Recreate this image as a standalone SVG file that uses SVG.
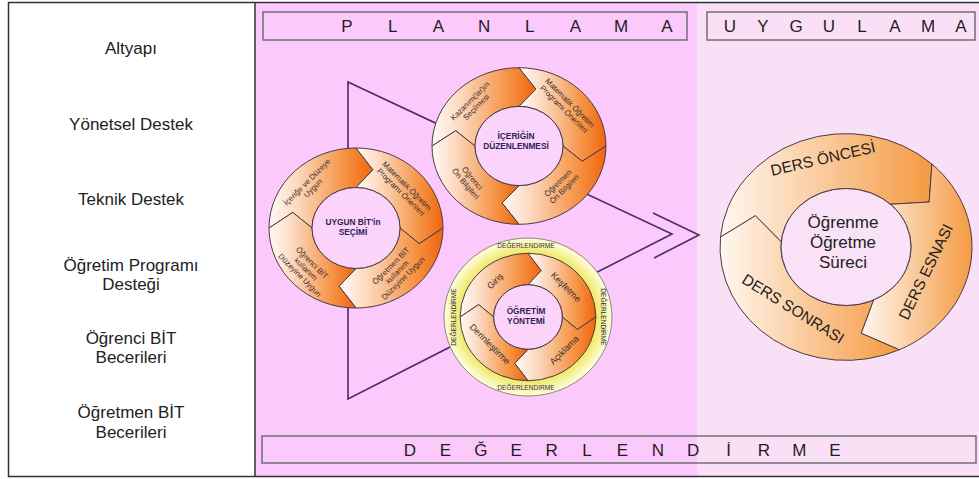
<svg xmlns="http://www.w3.org/2000/svg" xmlns:xlink="http://www.w3.org/1999/xlink" width="979" height="479" viewBox="0 0 979 479">
<style>
text{font-family:"Liberation Sans",Arial,sans-serif;fill:#222;text-anchor:middle}
.lab{font-size:17px}
.hdr{font-size:17px;fill:#1e1e1e}
.box{fill:none;stroke:#707070;stroke-width:1.5}
.tri{fill:none;stroke:#4a2c68;stroke-width:1.6;stroke-linejoin:miter}
.seg{stroke:#4a3a48;stroke-width:1;vector-effect:non-scaling-stroke}
.s8{font-size:7.8px;fill:#3a2a2a}
.s9{font-size:9px;fill:#3a2a2a}
.deg{font-size:6.6px;fill:#333}
.ctr{font-size:8.3px;font-weight:bold;fill:#2a2456}
.big{font-size:15.5px;fill:#222}
.mid{font-size:17px;fill:#222}
</style>
<defs>
<linearGradient id="gS" x1="0" y1="0" x2="1" y2="0">
<stop offset="0" stop-color="#fffaf6"/>
<stop offset="0.25" stop-color="#fcdcc4"/>
<stop offset="0.75" stop-color="#f5903f"/>
<stop offset="1" stop-color="#f0640e"/>
</linearGradient>
<linearGradient id="gB" x1="0" y1="0" x2="1" y2="0">
<stop offset="0" stop-color="#fff8f1"/>
<stop offset="1" stop-color="#f59a42"/>
</linearGradient>
<radialGradient id="gY" cx="0.5" cy="0.5" r="0.5">
<stop offset="0.78" stop-color="#ede650"/>
<stop offset="0.9" stop-color="#f7f3a0"/>
<stop offset="1" stop-color="#fffde6"/>
</radialGradient>
<g id="ring4">
<path class="seg" fill="url(#gS)" d="M-87,0 A87,87 0 0 1 0,-87 L16.95,-63.27 L0,-44 A44,44 0 0 0 -44,0 L-63.27,-16.95 Z"/>
<path class="seg" fill="url(#gS)" d="M0,-87 A87,87 0 0 1 87,0 L63.27,16.95 L44,0 A44,44 0 0 0 0,-44 L16.95,-63.27 Z"/>
<path class="seg" fill="url(#gS)" d="M87,0 A87,87 0 0 1 0,87 L-16.95,63.27 L0,44 A44,44 0 0 0 44,0 L63.27,16.95 Z"/>
<path class="seg" fill="url(#gS)" d="M0,87 A87,87 0 0 1 -87,0 L-63.27,-16.95 L-44,0 A44,44 0 0 0 0,44 L-16.95,63.27 Z"/>
<circle class="seg" r="44" fill="#fbd3fb"/>
</g>
</defs>

<!-- backgrounds -->
<rect x="8" y="2" width="247" height="475" fill="#ffffff"/>
<rect x="255" y="2" width="442" height="475" fill="#fcc9fc"/>
<rect x="697" y="2" width="282" height="475" fill="#f9e0f7"/>
<rect x="8.5" y="2.5" width="975" height="474" fill="none" stroke="#333" stroke-width="1.5"/>
<line x1="255" y1="2" x2="255" y2="477" stroke="#333" stroke-width="1.5"/>

<!-- left column -->
<g id="left-labels">
<text class="lab" x="131" y="54">Altyapı</text>
<text class="lab" x="131" y="130">Yönetsel Destek</text>
<text class="lab" x="131" y="205">Teknik Destek</text>
<text class="lab" x="131" y="271">Öğretim Programı<tspan x="131" y="290">Desteği</tspan></text>
<text class="lab" x="131" y="344">Öğrenci BİT<tspan x="131" y="363">Becerileri</tspan></text>
<text class="lab" x="131" y="418">Öğretmen BİT<tspan x="131" y="438">Becerileri</tspan></text>
</g>

<!-- headers -->
<g id="planlama">
<rect class="box" x="263" y="12" width="424" height="28"/>
<text class="hdr" x="347 392.7 438.4 484.1 529.8 575.5 621.2 667" y="32">PLANLAMA</text>
</g>
<g id="uygulama">
<rect class="box" x="707" y="12" width="268" height="28"/>
<text class="hdr" x="730 763 796 829 862 895 928 961" y="32">UYGULAMA</text>
</g>
<g id="degerlendirme">
<rect class="box" x="262" y="436" width="714" height="27"/>
<text class="hdr" x="410 445.4 480.8 516.2 551.6 587 622.4 657.8 693.2 728.6 764 799.4 834.8" y="456">DEĞERLENDİRME</text>
</g>

<!-- connectors -->
<g id="connectors">
<path class="tri" d="M348,82 L672,234 L348,399 Z"/>
<path class="tri" d="M653,213 L699,235 L654,258"/>
</g>

<!-- left circle -->
<g id="uygun-bit">
<use xlink:href="#ring4" transform="translate(356,228) scale(1,0.92)"/>
<text class="s8" transform="translate(310,185) rotate(-45)"><tspan x="0" y="-1.6">İçeriğe ve Düzeye</tspan><tspan x="0" y="7">Uygun</tspan></text>
<text class="s8" transform="translate(404,189) rotate(45)"><tspan x="0" y="-1.6">Matematik Öğretim</tspan><tspan x="0" y="7">Programı Önerileri</tspan></text>
<text class="s8" transform="translate(397,272) rotate(-45)"><tspan x="0" y="-6">Öğretmen BİT</tspan><tspan x="0" y="2.7">kullanım</tspan><tspan x="0" y="11.4">Düzeyine Uygun</tspan></text>
<text class="s8" transform="translate(306,269) rotate(45)"><tspan x="0" y="-6">Öğrenci BİT</tspan><tspan x="0" y="2.7">kullanım</tspan><tspan x="0" y="11.4">Düzeyine Uygun</tspan></text>
<text class="ctr" x="353" y="224.5">UYGUN BİT'in<tspan x="353" y="234.5">SEÇİMİ</tspan></text>
</g>

<!-- top circle -->
<g id="icerik">
<use xlink:href="#ring4" transform="translate(519,146) scale(1,0.9)"/>
<text class="s8" transform="translate(473,104) rotate(-45)"><tspan x="0" y="-1.6">Kazanım(lar)ın</tspan><tspan x="0" y="7">Seçilmesi</tspan></text>
<text class="s8" transform="translate(567,106) rotate(45)"><tspan x="0" y="-1.6">Matematik Öğretim</tspan><tspan x="0" y="7">Programı Önerileri</tspan></text>
<text class="s8" transform="translate(561,186) rotate(-45)"><tspan x="0" y="-1.6">Öğretmen</tspan><tspan x="0" y="7">Ön Bilgileri</tspan></text>
<text class="s8" transform="translate(469,181) rotate(50)"><tspan x="0" y="-1.6">Öğrenci</tspan><tspan x="0" y="7">Ön Bilgileri</tspan></text>
<text class="ctr" x="516" y="138.5">İÇERİĞİN<tspan x="516" y="149">DÜZENLENMESİ</tspan></text>
</g>

<!-- bottom circle -->
<g id="ogretim-yontemi">
<ellipse cx="528" cy="317" rx="84" ry="79" fill="url(#gY)" stroke="#8a8a6a" stroke-width="1"/>
<use xlink:href="#ring4" transform="translate(528,317) scale(0.78,0.733)"/>
<text class="deg" x="526" y="248">DEĞERLENDİRME</text>
<text class="deg" x="526" y="390">DEĞERLENDİRME</text>
<text class="deg" transform="translate(454,317) rotate(-90)" x="0" y="2.3">DEĞERLENDİRME</text>
<text class="deg" transform="translate(603,317) rotate(90)" x="0" y="2.3">DEĞERLENDİRME</text>
<text class="s9" transform="translate(495,281) rotate(-45)" x="0" y="3.2">Giriş</text>
<text class="s9" transform="translate(566,287) rotate(45)" x="0" y="3.2">Keşfetme</text>
<text class="s9" transform="translate(564,350) rotate(-45)" x="0" y="3.2">Açıklama</text>
<text class="s9" transform="translate(490,344) rotate(45)" x="0" y="3.2">Derinleştirme</text>
<text class="ctr" x="526" y="313.5">ÖĞRETİM<tspan x="526" y="324">YÖNTEMİ</tspan></text>
</g>

<!-- big circle -->
<g id="ogrenme-ogretme">
<g transform="translate(846,247) scale(1,0.9)">
<path class="seg" fill="url(#gB)" d="M-125.52,-10.99 A126,126 0 0 1 85.93,-92.15 L83.15,-49.96 L44.33,-47.54 A65,65 0 0 0 -64.75,-5.67 L-90.56,-34.76 Z"/>
<path class="seg" fill="url(#gB)" d="M85.93,-92.15 A126,126 0 0 1 53.25,114.19 L15.17,95.81 L27.47,58.91 A65,65 0 0 0 44.33,-47.54 L83.15,-49.96 Z"/>
<path class="seg" fill="url(#gB)" d="M53.25,114.19 A126,126 0 0 1 -125.52,-10.99 L-90.56,-34.76 L-64.75,-5.67 A65,65 0 0 0 27.47,58.91 L15.17,95.81 Z"/>
<circle class="seg" r="65" fill="#f9e1f7"/>
</g>
<text class="big" transform="translate(823,159) rotate(-13)" x="0" y="5">DERS ÖNCESİ</text>
<text class="big" transform="translate(926,272) rotate(-64)" x="0" y="5">DERS ESNASI</text>
<text class="big" transform="translate(793,309) rotate(32)" x="0" y="5">DERS SONRASI</text>
<text class="mid" x="843" y="228">Öğrenme<tspan x="843" y="248">Öğretme</tspan><tspan x="843" y="268">Süreci</tspan></text>
</g>
</svg>
